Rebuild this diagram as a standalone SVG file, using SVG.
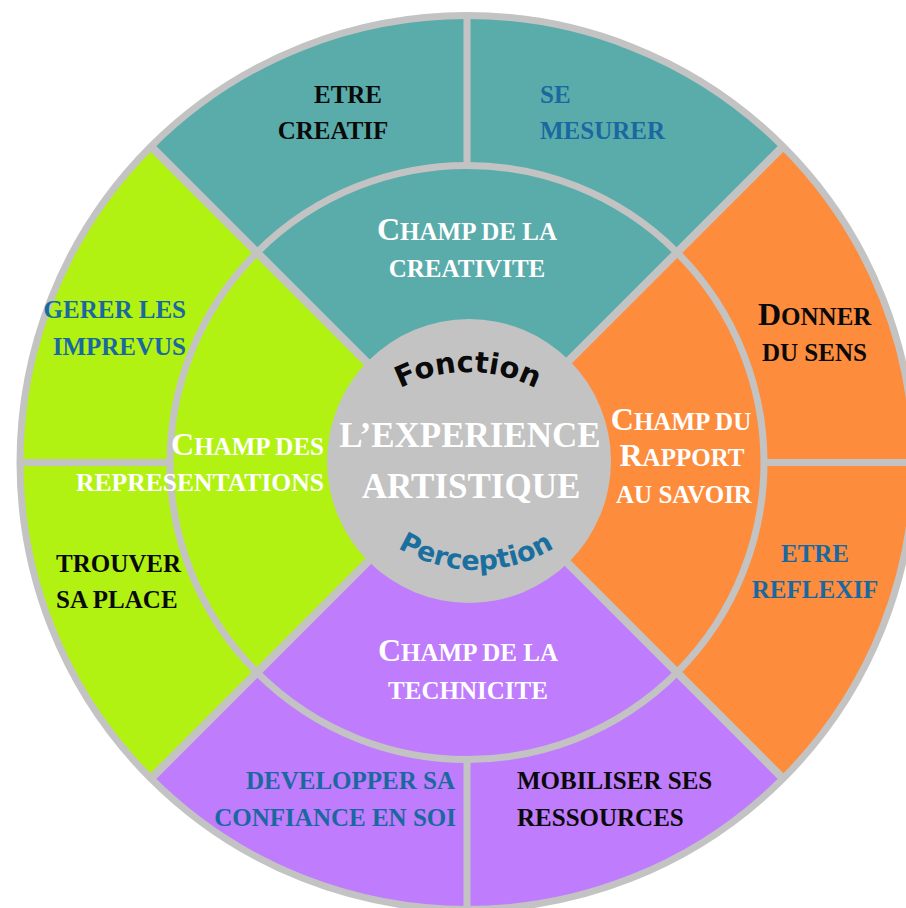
<svg xmlns="http://www.w3.org/2000/svg" width="906" height="908" viewBox="0 0 906 908">
<style>
.g{fill:none;stroke:#c3c3c3;stroke-width:7}
.t{font-family:"Liberation Serif","Times New Roman",serif;font-weight:bold;font-size:25px}
.L{font-size:32px}
.w{fill:#ffffff}
.k{fill:#0a0a0a}
.b{fill:#1a68a0}
.big{font-size:35px}
.arc{font-family:"DejaVu Sans",Verdana,sans-serif;font-weight:bold}
</style>
<defs>
<path id="arcTop" d="M318,522 A150,150 0 0 1 618,522"/>
<path id="arcBot" d="M326,420 A150,150 0 0 0 626,420"/>
</defs>
<rect width="906" height="908" fill="#ffffff"/>
<g id="sectors">
<path d="M467,462.5 L150.9,146.4 A447,447 0 0 1 783.1,146.4 Z" fill="#5aacab"/>
<path d="M467,462.5 L783.1,146.4 A447,447 0 0 1 783.1,778.6 Z" fill="#fd8c3d"/>
<path d="M467,462.5 L783.1,778.6 A447,447 0 0 1 150.9,778.6 Z" fill="#bf7cfc"/>
<path d="M467,462.5 L150.9,778.6 A447,447 0 0 1 150.9,146.4 Z" fill="#b1f213"/>
</g>
<g id="connectors">
<circle class="g" cx="467" cy="462.5" r="447"/>
<circle class="g" cx="467" cy="462.5" r="297"/>
<path class="g" style="stroke-width:8" d="M150.9,146.4 L783.1,778.6 M783.1,146.4 L150.9,778.6"/>
<path class="g" d="M467,16 V165.5 M467,759.5 V910 M19,462.5 H170 M764,462.5 H915"/>
</g>
<g id="center">
<circle cx="469" cy="461" r="142" fill="#c3c3c3"/>
<text class="t w big" x="470" y="447" text-anchor="middle">L’EXPERIENCE</text>
<text class="t w big" x="471" y="498" text-anchor="middle">ARTISTIQUE</text>
<text class="arc" font-size="29" fill="#0a0a0a"><textPath href="#arcTop" startOffset="50%" text-anchor="middle">Fonction</textPath></text>
<text class="arc" font-size="27" fill="#1a6f9f"><textPath href="#arcBot" startOffset="50%" text-anchor="middle">Perception</textPath></text>
</g>
<g id="champ-creativite">
<text class="t w" x="467" y="240" text-anchor="middle"><tspan class="L">C</tspan>HAMP DE LA</text>
<text class="t w" x="467" y="277" text-anchor="middle">CREATIVITE</text>
</g>
<g id="champ-representations">
<text class="t w" x="324" y="455" text-anchor="end"><tspan class="L">C</tspan>HAMP DES</text>
<text class="t w" x="324" y="491" text-anchor="end" textLength="248" lengthAdjust="spacingAndGlyphs">REPRESENTATIONS</text>
</g>
<g id="champ-rapport">
<text class="t w" x="681" y="430" text-anchor="middle"><tspan class="L">C</tspan>HAMP DU</text>
<text class="t w" x="682" y="466" text-anchor="middle"><tspan class="L">R</tspan>APPORT</text>
<text class="t w" x="684" y="503" text-anchor="middle">AU SAVOIR</text>
</g>
<g id="champ-technicite">
<text class="t w" x="468" y="661" text-anchor="middle"><tspan class="L">C</tspan>HAMP DE LA</text>
<text class="t w" x="468" y="699" text-anchor="middle">TECHNICITE</text>
</g>
<g id="etre-creatif">
<text class="t k" x="348" y="103" text-anchor="middle">ETRE</text>
<text class="t k" x="333" y="139" text-anchor="middle">CREATIF</text>
</g>
<g id="se-mesurer">
<text class="t b" x="540" y="103">SE</text>
<text class="t b" x="540" y="139">MESURER</text>
</g>
<g id="donner-du-sens">
<text class="t k" x="758" y="325"><tspan class="L">D</tspan>ONNER</text>
<text class="t k" x="762" y="361">DU SENS</text>
</g>
<g id="etre-reflexif">
<text class="t b" x="815" y="562" text-anchor="middle">ETRE</text>
<text class="t b" x="815" y="598" text-anchor="middle">REFLEXIF</text>
</g>
<g id="mobiliser">
<text class="t k" x="517" y="789">MOBILISER SES</text>
<text class="t k" x="517" y="826">RESSOURCES</text>
</g>
<g id="confiance">
<text class="t b" x="455" y="789" text-anchor="end">DEVELOPPER SA</text>
<text class="t b" x="456" y="826" text-anchor="end">CONFIANCE EN SOI</text>
</g>
<g id="trouver-sa-place">
<text class="t k" x="56" y="572">TROUVER</text>
<text class="t k" x="56" y="608">SA PLACE</text>
</g>
<g id="gerer-imprevus">
<text class="t b" x="186" y="318" text-anchor="end">GERER LES</text>
<text class="t b" x="186" y="355" text-anchor="end">IMPREVUS</text>
</g>
</svg>
